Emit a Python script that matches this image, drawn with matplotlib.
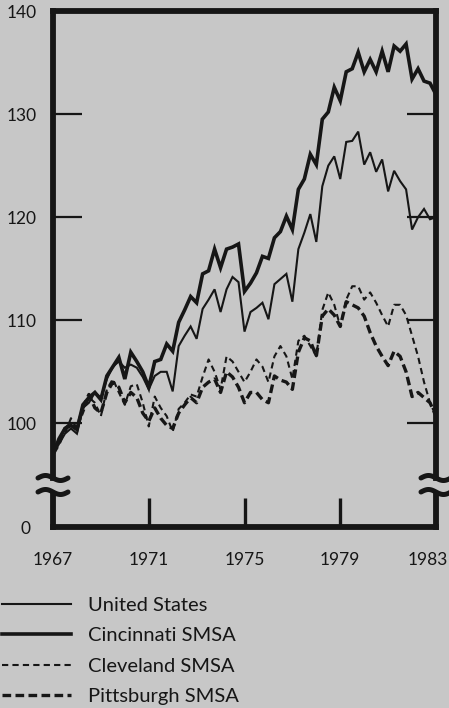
import numpy as np
import matplotlib
matplotlib.use("Agg")
import matplotlib.pyplot as plt
from matplotlib.transforms import ScaledTranslation

plt.rcParams['font.family'] = ['Lato', 'DejaVu Sans']

# ---------------- data (quarterly, 1967.0 .. 1983.0) ----------------
start_year = 1967
quarters_per_year = 4

united_states = [
    97.0, 98.0, 99.0, 99.5, 99.0, 101.5, 102.0, 103.0,
    102.5, 104.3, 105.5, 106.0, 105.4, 105.7, 105.4, 104.5,
    103.3, 104.6, 105.0, 105.0, 103.1, 107.5, 108.5, 109.4,
    108.2, 111.1, 112.0, 113.0, 110.8, 113.0, 114.2, 113.7,
    108.9, 110.8, 111.2, 111.7, 110.1, 113.5, 114.0, 114.5,
    111.8, 116.9, 118.5, 120.3, 117.6, 123.0, 125.0, 125.9,
    123.7, 127.3, 127.4, 128.3, 125.1, 126.3, 124.4, 125.6,
    122.5, 124.5, 123.5, 122.7, 118.8, 120.0, 120.8, 119.8,
    120.0,
]
cincinnati = [
    97.0, 98.5, 99.5, 99.8, 99.4, 101.8, 102.5, 103.0,
    102.3, 104.6, 105.5, 106.4, 104.3, 106.9, 106.0, 105.0,
    103.5, 106.0, 106.2, 107.7, 107.0, 109.8, 111.0, 112.3,
    111.7, 114.5, 114.8, 116.9, 115.1, 116.9, 117.1, 117.4,
    112.8, 113.6, 114.6, 116.2, 116.0, 118.0, 118.6, 120.1,
    118.8, 122.7, 123.7, 126.1, 125.1, 129.5, 130.2, 132.6,
    131.3, 134.1, 134.4, 136.0, 134.1, 135.3, 134.1, 136.1,
    134.1, 136.6, 136.1, 136.8, 133.4, 134.4, 133.2, 133.0,
    131.9,
]
cleveland = [
    97.5, 98.5, 99.0, 100.5, 99.5, 101.0, 102.5, 102.0,
    100.7, 103.3, 104.3, 103.0, 101.8, 103.6, 103.8, 102.0,
    99.7, 102.6, 101.5, 100.7, 99.2, 101.4, 102.0, 102.8,
    102.6, 104.5, 106.2, 105.0, 103.3, 106.5, 106.0, 105.0,
    104.0, 105.0, 106.2, 105.5, 104.0, 106.5, 107.5, 106.5,
    104.3, 108.0, 108.5, 107.5, 106.5, 111.0, 112.7, 111.5,
    109.4, 112.0, 113.3, 113.3, 112.0, 112.7, 111.7, 110.5,
    109.4, 111.5, 111.5, 110.5, 108.5, 106.5, 104.0, 102.0,
    100.7,
]
pittsburgh = [
    97.0, 98.0, 99.5, 100.0, 99.5, 101.5, 102.8, 101.5,
    101.0, 103.0, 104.0, 103.5, 102.0, 103.0, 102.5, 101.0,
    100.2, 101.5, 100.5, 99.8, 99.5, 101.0, 101.8, 102.5,
    102.0, 103.5, 104.0, 104.3, 103.0, 105.0, 104.5, 103.5,
    102.0, 103.0, 103.0, 102.3, 102.0, 104.6, 104.2, 104.0,
    103.3, 106.9, 108.3, 108.0, 106.5, 110.4, 111.1, 110.5,
    109.4, 111.8, 111.5, 111.2, 110.4, 108.8, 107.5, 106.5,
    105.6, 107.0, 106.5, 105.0, 102.6, 103.0, 102.5, 102.0,
    100.7,
]

series_labels = ["United States", "Cincinnati SMSA", "Cleveland SMSA", "Pittsburgh SMSA"]
x_tick_years = [1967, 1971, 1975, 1979, 1983]
y_tick_values = [100, 110, 120, 130, 140]
y_tick_labels = ["100", "110", "120", "130", "140"]

years = start_year + np.arange(len(united_states)) / quarters_per_year

# ---------------- styling ----------------
BG = "#c7c7c7"
INK = "#161616"
W, H = 449, 708

fig = plt.figure(figsize=(W / 100, H / 100), dpi=100, facecolor=BG)

def fx(px):
    return px / W

def fy(py):
    return 1 - py / H

left_px, right_px = 53, 436
top_px, brk_px = 11, 478
low_top_px, base_px = 494, 527

ax = fig.add_axes([fx(left_px), fy(brk_px), fx(right_px - left_px), (brk_px - top_px) / H])
axb = fig.add_axes([fx(left_px), fy(base_px), fx(right_px - left_px), (base_px - low_top_px) / H])

for a in (ax, axb):
    a.set_facecolor("none")
    a.set_xlim(1967, 1983)

# upper panel
ax.set_ylim(94.7, 140)
l_us, = ax.plot(years, united_states, color=INK, lw=1.5, solid_joinstyle="miter")
l_cin, = ax.plot(years, cincinnati, color=INK, lw=2.6, solid_joinstyle="miter")
l_cle, = ax.plot(years, cleveland, color=INK, lw=1.5, dashes=(3.0, 2.0))
l_pit, = ax.plot(years, pittsburgh, color=INK, lw=2.4, dashes=(2.6, 1.3))

for s in ("left", "right", "top"):
    ax.spines[s].set_linewidth(4.2)
    ax.spines[s].set_color(INK)
ax.spines["bottom"].set_visible(False)
ax.set_xticks([])
ax.set_yticks(y_tick_values)
ax.set_yticklabels(y_tick_labels)
ax.tick_params(axis="y", direction="in", length=21, width=1.6, color=INK,
               left=True, right=True, labelsize=12.5, labelcolor=INK, pad=12)

# lower panel (zero baseline)
axb.set_ylim(0, 1)
for s in ("left", "right", "bottom"):
    axb.spines[s].set_linewidth(4.2)
    axb.spines[s].set_color(INK)
axb.spines["top"].set_visible(False)
axb.set_yticks([0])
axb.set_yticklabels(["0"])
axb.tick_params(axis="y", length=0, labelsize=12.5, labelcolor=INK, pad=16)
axb.set_xticks(x_tick_years)
axb.set_xticklabels([str(y) for y in x_tick_years])
axb.tick_params(axis="x", direction="in", length=21, width=2.4, color=INK,
                labelsize=12.5, labelcolor=INK, pad=18)
last = axb.get_xticklabels()[-1]
last.set_transform(last.get_transform() + ScaledTranslation(-0.08, 0, fig.dpi_scale_trans))

# axis break marks (overlay in pixel coordinates)
ov = fig.add_axes([0, 0, 1, 1], zorder=10)
ov.set_xlim(0, W)
ov.set_ylim(H, 0)
ov.axis("off")
t = np.linspace(0, 1, 40)
for xc in (left_px, right_px):
    for yc in (brk_px, low_top_px - 2):
        xs = xc - 15 + 30 * t
        ys = yc - 2.5 * np.sin(2 * np.pi * t)
        ov.plot(xs, ys, color=INK, lw=3.6, solid_capstyle="round")

# legend
fig.legend(handles=[l_us, l_cin, l_cle, l_pit], labels=series_labels,
           loc="upper left", bbox_to_anchor=(fx(2), fy(597)), frameon=False,
           fontsize=14.5, handlelength=3.45, handletextpad=0.8, labelspacing=0.66,
           borderpad=0, borderaxespad=0, labelcolor=INK)

fig.savefig("out.png", dpi=100, facecolor=BG)
